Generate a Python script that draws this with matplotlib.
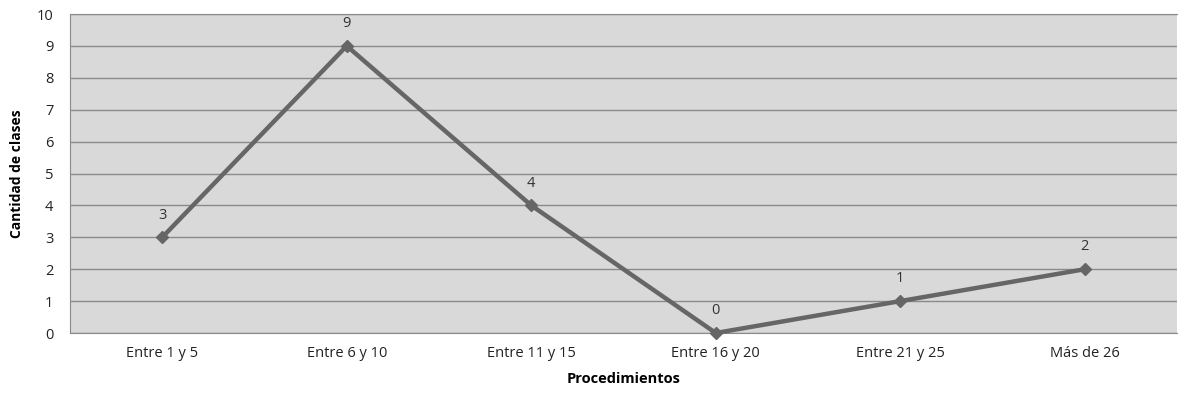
import matplotlib.pyplot as plt

# Number of classes by procedure count range
categorias = ["Entre 1 y 5", "Entre 6 y 10", "Entre 11 y 15", "Entre 16 y 20", "Entre 21 y 25", "Más de 26"]
clases = [3, 9, 4, 0, 1, 2]

plt.rcParams["font.family"] = ["Open Sans", "DejaVu Sans"]

fig = plt.figure(figsize=(11.82, 3.98), dpi=100)
ax = fig.add_axes([0.0592, 0.1633, 0.9366, 0.8015])
ax.set_facecolor("#d9d9d9")

x = list(range(len(categorias)))
ax.plot(x, clases, color="#666666", linewidth=3.2, marker="D", markersize=6.5,
        zorder=3, clip_on=False)

# value labels above each point
for xi, v in zip(x, clases):
    ax.annotate(str(v), (xi, v), xytext=(0, 16), textcoords="offset points",
                ha="center", va="center", fontsize=10.5, color="#333333")

ax.set_xlim(-0.5, len(categorias) - 0.5)
ax.set_ylim(0, 10)
ax.set_yticks(range(0, 11))
ax.set_xticks(x)
ax.set_xticklabels(categorias)
ax.tick_params(axis="both", length=0, labelsize=10.5, colors="#222222")
ax.tick_params(axis="x", pad=9)
ax.tick_params(axis="y", pad=12)

ax.grid(axis="y", color="#8a8a8a", linewidth=1)
ax.set_axisbelow(True)
for side in ["left", "bottom", "top"]:
    ax.spines[side].set_color("#8a8a8a")
ax.spines["right"].set_visible(False)

ax.set_xlabel("Procedimientos", fontsize=10.5, fontweight="bold", labelpad=8)
ax.set_ylabel("Cantidad de clases", fontsize=10, fontweight="bold", labelpad=9)

plt.savefig("out.png", dpi=100)
